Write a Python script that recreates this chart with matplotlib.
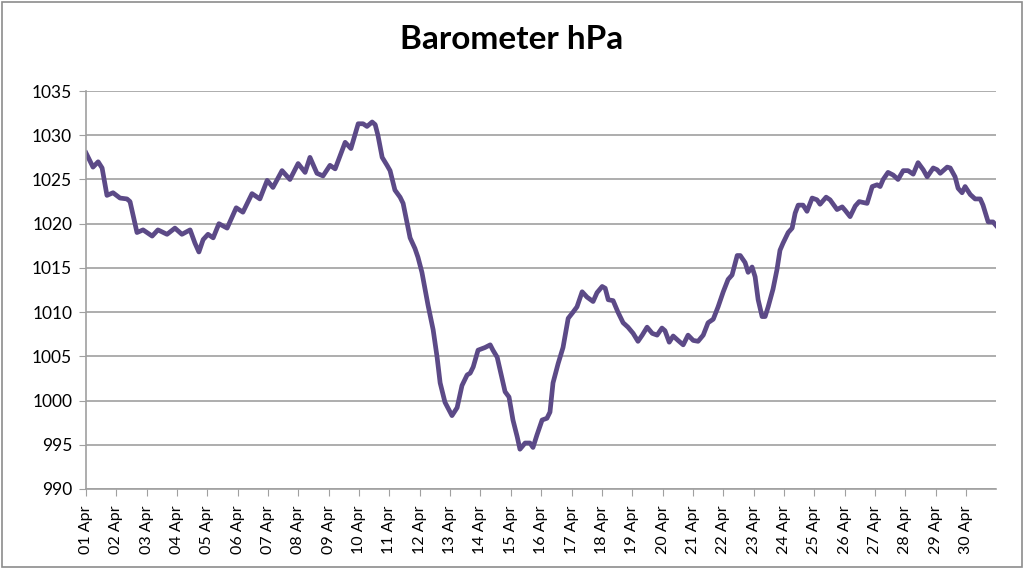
import numpy as np
import pandas as pd
import matplotlib
matplotlib.use("Agg")
import matplotlib.pyplot as plt
import matplotlib.dates as mdates
from matplotlib.patches import Rectangle

# days after 01 Apr 00:00
days = [0.00, 0.23, 0.40, 0.53, 0.69, 0.89, 1.12, 1.35, 1.45, 1.68, 1.88, 2.18,
        2.37, 2.67, 2.93, 3.16, 3.43, 3.59, 3.72, 3.86, 4.02, 4.19, 4.38, 4.65,
        4.95, 5.17, 5.47, 5.73, 5.97, 6.16, 6.46, 6.72, 6.99, 7.22, 7.38, 7.61,
        7.81, 8.04, 8.21, 8.54, 8.73, 8.97, 9.13, 9.26, 9.43, 9.53, 9.62, 9.76,
        9.92, 10.02, 10.18, 10.35, 10.45, 10.61, 10.68, 10.84, 10.94, 11.07,
        11.27, 11.44, 11.57, 11.67, 11.83, 12.06, 12.23, 12.39, 12.56, 12.66,
        12.76, 12.92, 13.15, 13.32, 13.41, 13.55, 13.71, 13.81, 13.94, 14.07,
        14.21, 14.30, 14.47, 14.63, 14.73, 14.86, 15.03, 15.19, 15.29, 15.39,
        15.56, 15.72, 15.89, 16.05, 16.18, 16.35, 16.51, 16.71, 16.84, 17.01,
        17.11, 17.21, 17.37, 17.53, 17.70, 17.86, 18.03, 18.19, 18.33, 18.49,
        18.66, 18.82, 18.98, 19.08, 19.22, 19.35, 19.51, 19.68, 19.84, 20.01,
        20.17, 20.34, 20.50, 20.67, 20.83, 21.00, 21.16, 21.29, 21.46, 21.56,
        21.72, 21.82, 21.95, 22.05, 22.15, 22.28, 22.38, 22.48, 22.64, 22.77,
        22.87, 22.97, 23.14, 23.27, 23.37, 23.47, 23.63, 23.76, 23.93, 24.09,
        24.19, 24.39, 24.52, 24.75, 24.92, 25.02, 25.18, 25.35, 25.48, 25.74,
        25.91, 26.07, 26.17, 26.27, 26.43, 26.60, 26.76, 26.93, 27.09, 27.26,
        27.42, 27.59, 27.72, 27.92, 28.05, 28.15, 28.38, 28.48, 28.64, 28.74,
        28.87, 28.97, 29.14, 29.30, 29.47, 29.56, 29.73, 29.89, 29.99]

pressure = [1028.0, 1026.4, 1027.0, 1026.3, 1023.2, 1023.5, 1022.9, 1022.8, 1022.5,
            1019.0, 1019.3, 1018.6, 1019.3, 1018.8, 1019.5, 1018.8, 1019.3, 1017.8,
            1016.8, 1018.2, 1018.8, 1018.4, 1020.0, 1019.5, 1021.8, 1021.3, 1023.4,
            1022.8, 1024.9, 1024.1, 1026.0, 1025.0, 1026.8, 1025.8, 1027.5, 1025.7,
            1025.4, 1026.6, 1026.2, 1029.2, 1028.5, 1031.3, 1031.3, 1031.0, 1031.5,
            1031.2, 1030.0, 1027.5, 1026.6, 1026.0, 1023.8, 1023.0, 1022.3, 1019.6,
            1018.4, 1017.2, 1016.2, 1014.5, 1010.8, 1008.0, 1004.9, 1002.0, 999.8,
            998.3, 999.2, 1001.7, 1002.9, 1003.1, 1003.8, 1005.7, 1006.0, 1006.3,
            1005.7, 1004.9, 1002.5, 1001.0, 1000.4, 997.8, 995.9, 994.5, 995.2,
            995.2, 994.7, 996.1, 997.8, 998.0, 998.7, 1002.0, 1004.2, 1006.0,
            1009.3, 1010.0, 1010.6, 1012.3, 1011.7, 1011.2, 1012.2, 1012.9, 1012.7,
            1011.4, 1011.3, 1010.0, 1008.8, 1008.3, 1007.6, 1006.7, 1007.4, 1008.3,
            1007.6, 1007.4, 1008.2, 1007.9, 1006.6, 1007.3, 1006.8, 1006.3, 1007.4,
            1006.8, 1006.7, 1007.4, 1008.8, 1009.2, 1010.6, 1012.3, 1013.7, 1014.2,
            1016.4, 1016.4, 1015.6, 1014.5, 1015.1, 1014.0, 1011.4, 1009.5, 1009.5,
            1010.6, 1012.6, 1014.8, 1017.0, 1017.8, 1019.0, 1019.5, 1021.2, 1022.1,
            1022.1, 1021.4, 1022.9, 1022.7, 1022.2, 1023.0, 1022.7, 1021.6, 1021.9,
            1021.5, 1020.8, 1022.0, 1022.5, 1022.3, 1024.2, 1024.4, 1024.2, 1025.0,
            1025.8, 1025.5, 1025.0, 1026.0, 1026.0, 1025.6, 1026.9, 1026.1, 1025.3,
            1026.3, 1026.1, 1025.7, 1026.4, 1026.3, 1025.3, 1024.0, 1023.5, 1024.2,
            1023.3, 1022.8, 1022.8, 1022.1, 1020.2, 1020.2, 1019.8]

start = pd.Timestamp("2019-04-01")
times = start + pd.to_timedelta(days, unit="D")
tick_dates = pd.date_range(start, periods=30, freq="D")

plt.rcParams["font.family"] = ["Lato", "DejaVu Sans"]

fig = plt.figure(figsize=(10.24, 5.69), dpi=100)
ax = fig.add_axes([0.084, 0.1406, 0.889, 0.6994])

ax.plot(times, pressure, color="#5c4a87", linewidth=3.4, solid_joinstyle="round")

ax.set_xlim(start, start + pd.Timedelta(days=30))
ax.set_ylim(990, 1035)
ax.set_yticks(np.arange(990, 1036, 5))

ax.set_xticks(tick_dates)
ax.xaxis.set_major_formatter(mdates.DateFormatter("%d %b"))
ax.tick_params(axis="x", rotation=90, labelsize=11.5, length=5, color="#a0a0a0", pad=7)
ax.tick_params(axis="y", labelsize=12.5, length=5, color="#a0a0a0", pad=5)

ax.grid(axis="y", color="#a0a0a0", linewidth=1.2)
ax.set_axisbelow(True)
for s in ["top", "right"]:
    ax.spines[s].set_visible(False)
for s in ["left", "bottom"]:
    ax.spines[s].set_color("#a0a0a0")
    ax.spines[s].set_linewidth(1.2)

fig.text(0.5, 0.93, "Barometer hPa", ha="center", va="center",
         fontsize=24, fontweight="bold")

# chart border
fig.patches.append(Rectangle((0.002, 0.003), 0.996, 0.994, transform=fig.transFigure,
                             fill=False, edgecolor="#8c8c8c", linewidth=1.2))

fig.savefig("out.png", dpi=100)
